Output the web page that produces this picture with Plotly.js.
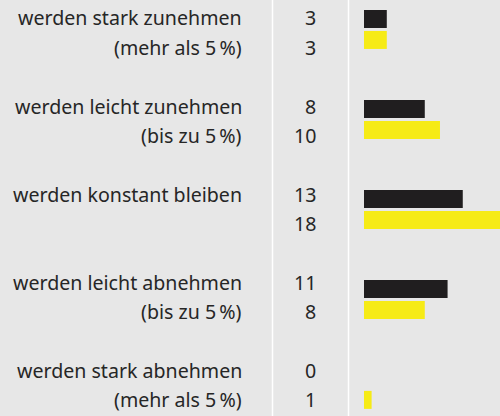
<!DOCTYPE html>
<html>
<head>
<meta charset="utf-8">
<script src="https://cdn.plot.ly/plotly-3.0.1.min.js"></script>
<style>
  html, body { margin: 0; padding: 0; background: #e7e7e7; }
  #chart { width: 500px; height: 416px; }
</style>
</head>
<body>
<div id="chart"></div>
<script>
const categories = ["stark zunehmen", "leicht zunehmen", "konstant", "leicht abnehmen", "stark abnehmen"];
const labelLine1 = ["werden stark zunehmen", "werden leicht zunehmen", "werden konstant bleiben", "werden leicht abnehmen", "werden stark abnehmen"];
const labelLine2 = ["(mehr als 5\u2009%)", "(bis zu 5\u2009%)", "", "(bis zu 5\u2009%)", "(mehr als 5\u2009%)"];
const seriesBlack = [3, 8, 13, 11, 0];
const seriesYellow = [3, 10, 18, 8, 1];

const W = 500, H = 416;
const FONT = "Noto Sans, sans-serif";
const TXT = "#262626";
const fs = 19.6;

const traces = [
  { type: "bar", orientation: "h", y: categories, x: seriesBlack,
    marker: { color: "#201e1f" }, width: 0.2, offset: -0.216, hoverinfo: "skip" },
  { type: "bar", orientation: "h", y: categories, x: seriesYellow,
    marker: { color: "#f6eb16" }, width: 0.2, offset: 0.017, hoverinfo: "skip" }
];

const annotations = [];
const lineY = (g, k) => 1 - (18 + 88 * g + 29 * k) / H;
categories.forEach((c, g) => {
  annotations.push({ xref: "paper", yref: "paper", x: 244 / W, y: lineY(g, 0), text: labelLine1[g],
    xanchor: "right", yanchor: "middle", showarrow: false, font: { family: FONT, size: fs, color: TXT } });
  if (labelLine2[g]) {
    annotations.push({ xref: "paper", yref: "paper", x: 244 / W, y: lineY(g, 1), text: labelLine2[g],
      xanchor: "right", yanchor: "middle", showarrow: false, font: { family: FONT, size: fs, color: TXT } });
  }
  annotations.push({ xref: "paper", yref: "paper", x: 318 / W, y: lineY(g, 0), text: String(seriesBlack[g]),
    xanchor: "right", yanchor: "middle", showarrow: false, font: { family: FONT, size: fs, color: TXT } });
  annotations.push({ xref: "paper", yref: "paper", x: 318 / W, y: lineY(g, 1), text: String(seriesYellow[g]),
    xanchor: "right", yanchor: "middle", showarrow: false, font: { family: FONT, size: fs, color: TXT } });
});

const layout = {
  width: W, height: H,
  margin: { l: 0, r: 0, t: 0, b: 0, pad: 0 },
  paper_bgcolor: "#e7e7e7", plot_bgcolor: "#e7e7e7",
  showlegend: false, barmode: "overlay",
  xaxis: { domain: [364 / W, 1], range: [0, 17.9], visible: false, fixedrange: true },
  yaxis: { type: "category", range: [4.296, -0.327], visible: false, fixedrange: true },
  shapes: [
    { type: "line", xref: "paper", yref: "paper", x0: 272.5 / W, x1: 272.5 / W, y0: 0, y1: 1, line: { color: "#ffffff", width: 1.5 } },
    { type: "line", xref: "paper", yref: "paper", x0: 348.5 / W, x1: 348.5 / W, y0: 0, y1: 1, line: { color: "#ffffff", width: 1.5 } }
  ],
  annotations: annotations
};

Plotly.newPlot("chart", traces, layout, { staticPlot: true, displayModeBar: false });
</script>
</body>
</html>
